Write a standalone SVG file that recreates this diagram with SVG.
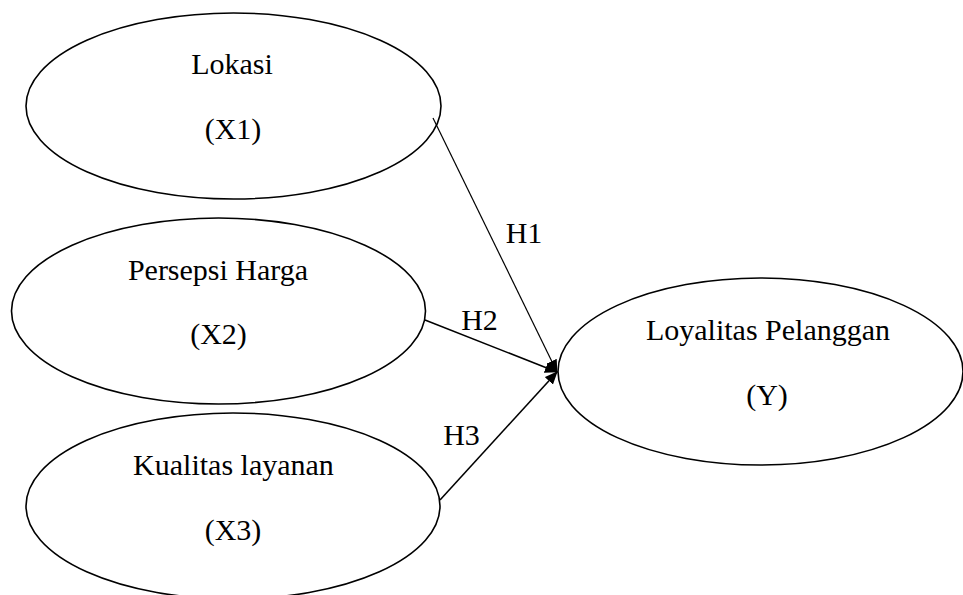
<svg xmlns="http://www.w3.org/2000/svg" width="963" height="595" viewBox="0 0 963 595">
  <style>
    .node ellipse { fill: #ffffff; stroke: #000000; stroke-width: 1.6; }
    .node text, .label { font-family: "Liberation Serif", "Times New Roman", serif; font-size: 30px; fill: #000000; text-anchor: middle; }
    .edge { stroke: #000000; stroke-width: 1.6; fill: none; marker-end: url(#arrow); }
  </style>
  <defs>
    <marker id="arrow" viewBox="0 0 13 11" refX="12" refY="5.5" markerWidth="13" markerHeight="11" markerUnits="userSpaceOnUse" orient="auto">
      <path d="M0,0 L13,5.5 L0,11 z" fill="#000000"/>
    </marker>
  </defs>
  <rect width="963" height="595" fill="#ffffff"/>

  <g id="x1" class="node">
    <ellipse cx="233.5" cy="106" rx="207.5" ry="93"/>
    <text x="232" y="74">Lokasi</text>
    <text x="233" y="139">(X1)</text>
  </g>

  <g id="x2" class="node">
    <ellipse cx="218.5" cy="311" rx="207" ry="93"/>
    <text x="218" y="280">Persepsi Harga</text>
    <text x="218.5" y="344">(X2)</text>
  </g>

  <g id="x3" class="node">
    <ellipse cx="233" cy="506" rx="207" ry="93"/>
    <text x="233.5" y="475">Kualitas layanan</text>
    <text x="233" y="540">(X3)</text>
  </g>

  <g id="y" class="node">
    <ellipse cx="760.5" cy="371.5" rx="202.5" ry="93.5"/>
    <text x="768" y="340">Loyalitas Pelanggan</text>
    <text x="767" y="405">(Y)</text>
  </g>

  <g id="connectors">
    <line class="edge" x1="433" y1="118" x2="557" y2="372" style="stroke-width:1.2"/>
    <line class="edge" x1="425" y1="320" x2="557" y2="372"/>
    <line class="edge" x1="440" y1="500" x2="557" y2="372"/>
    <text class="label" x="524" y="243">H1</text>
    <text class="label" x="479.5" y="330">H2</text>
    <text class="label" x="461.5" y="445">H3</text>
  </g>
</svg>
